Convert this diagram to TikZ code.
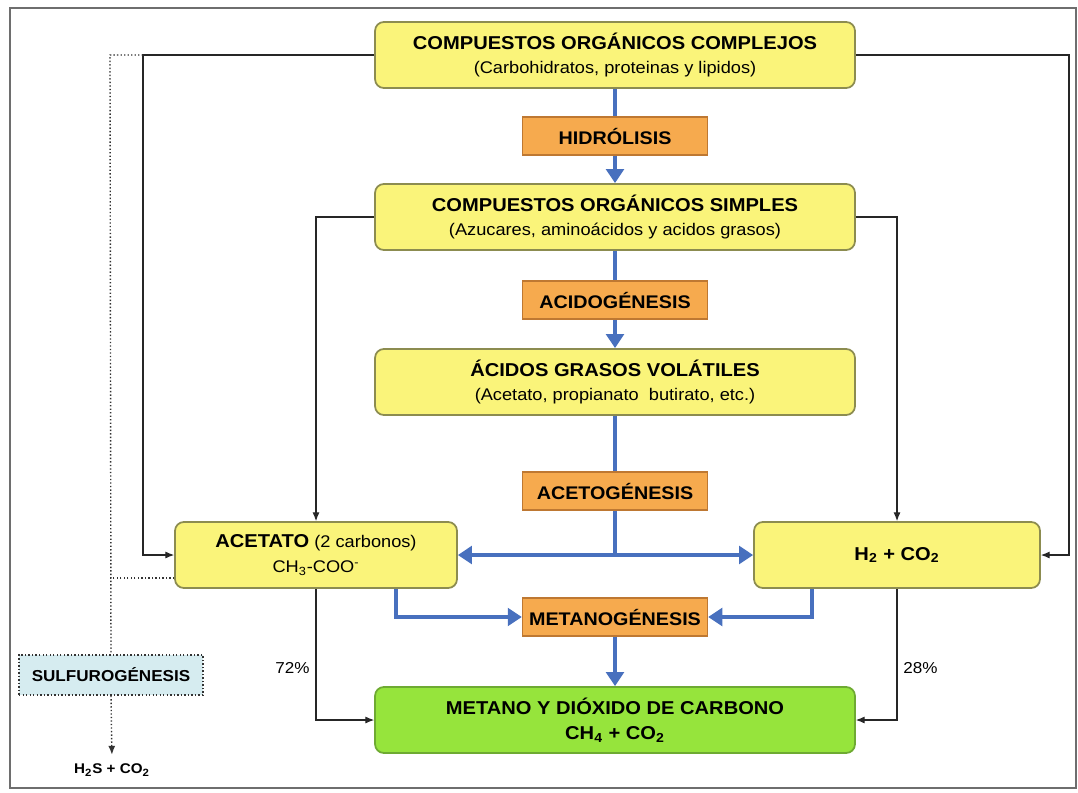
\documentclass[tikz,border=0pt]{standalone}
\usepackage{fontspec}
\setmainfont[FakeStretch=1.08]{Liberation Sans}
\usetikzlibrary{arrows.meta}

\definecolor{amarillo}{RGB}{250,244,122}
\definecolor{bordeamarillo}{RGB}{140,140,80}
\definecolor{naranja}{RGB}{246,170,78}
\definecolor{bordenaranja}{RGB}{190,120,50}
\definecolor{verde}{RGB}{150,228,60}
\definecolor{bordeverde}{RGB}{110,170,50}
\definecolor{celeste}{RGB}{214,236,240}
\definecolor{azul}{RGB}{72,112,190}
\definecolor{marco}{RGB}{110,110,110}

\newcommand{\titulo}[1]{{\fontsize{10.6}{14}\selectfont\bfseries #1}}

\tikzset{
  caja/.style={draw=bordeamarillo, fill=amarillo, line width=1pt, rounded corners=5pt,
    minimum width=9.6cm, minimum height=1.32cm, align=center, inner sep=0pt,
    font=\fontsize{9.6}{14}\selectfont},
  etapa/.style={draw=bordenaranja, fill=naranja, line width=0.8pt, minimum width=3.7cm,
    minimum height=0.76cm, inner sep=0pt, font=\fontsize{10.4}{12}\selectfont\bfseries},
  flujo/.style={draw=azul, line width=2.6pt},
  flecha/.style={flujo, -{Triangle[length=8pt,width=10pt]}},
  retorno/.style={draw=black!85, line width=0.6pt, -{Latex[length=5pt,width=4pt]}},
  punteado/.style={draw=black!80, line width=0.8pt, dash pattern=on 0.8pt off 1.2pt},
}

\begin{document}
\begin{tikzpicture}[x=0.02cm, y=-0.02cm]
\useasboundingbox (0,0) rectangle (1078,792);
\draw[marco, line width=1.4pt] (10,8) rectangle (1076,788);

% etapas centrales
\node[caja] (complejos) at (615,55) {\titulo{COMPUESTOS ORGÁNICOS COMPLEJOS}\\(Carbohidratos, proteinas y lipidos)};
\node[etapa] (hidrolisis) at (615,136) {HIDRÓLISIS};
\node[caja] (simples) at (615,217) {\titulo{COMPUESTOS ORGÁNICOS SIMPLES}\\(Azucares, aminoácidos y acidos grasos)};
\node[etapa] (acidogenesis) at (615,300) {ACIDOGÉNESIS};
\node[caja] (volatiles) at (615,382) {\titulo{ÁCIDOS GRASOS VOLÁTILES}\\(Acetato, propianato\ \ butirato, etc.)};
\node[etapa] (acetogenesis) at (615,491) {ACETOGÉNESIS};
\node[caja, minimum width=5.64cm] (acetato) at (316,555) {\titulo{ACETATO} (2 carbonos)\\CH\textsubscript{3}-COO\textsuperscript{-}};
\node[caja, minimum width=5.72cm] (hidrogeno) at (897,555) {\titulo{H\textsubscript{2} + CO\textsubscript{2}}};
\node[etapa] (metanogenesis) at (615,617) {METANOGÉNESIS};
\node[caja, draw=bordeverde, fill=verde] (metano) at (615,720) {\titulo{METANO Y DIÓXIDO DE CARBONO}\\\titulo{CH\textsubscript{4} + CO\textsubscript{2}}};

% via lateral
\node[draw=black!70, punteado, fill=celeste, minimum width=3.68cm, minimum height=0.8cm,
  inner sep=0pt, font=\fontsize{9}{11}\selectfont\bfseries] (sulfurogenesis) at (111,675) {SULFUROGÉNESIS};
\node[font=\fontsize{8}{10}\selectfont\bfseries, inner sep=1pt] (h2s) at (112,770) {H\textsubscript{2}S + CO\textsubscript{2}};

% flujo principal
\path[flujo] (complejos) -- (hidrolisis);
\path[flecha] (hidrolisis) -- (simples);
\path[flujo] (simples) -- (acidogenesis);
\path[flecha] (acidogenesis) -- (volatiles);
\path[flujo] (volatiles) -- (acetogenesis);
\coordinate (cruce) at (615,555);
\path[flujo] (acetogenesis) -- (cruce);
\path[flecha] (cruce) -- (acetato.east);
\path[flecha] (cruce) -- (hidrogeno.west);
\path[flecha] ([xshift=1.6cm]acetato.south) |- (metanogenesis.west);
\path[flecha] ([xshift=-1.7cm]hidrogeno.south) |- (metanogenesis.east);
\path[flecha] (metanogenesis) -- (metano);

% conexiones directas
\coordinate (vueltaizq) at (143,55);
\coordinate (vueltader) at (1069,55);
\path[retorno] (complejos.west) -- (vueltaizq) |- (acetato.west);
\path[retorno] (complejos.east) -- (vueltader) |- (hidrogeno.east);
\path[retorno] (simples.west) -| (acetato.north);
\path[retorno] (simples.east) -| (hidrogeno.north);
\path[retorno] (acetato.south) |- node[pos=0.3, anchor=east, font=\fontsize{9}{11}\selectfont] {72\%} (metano.west);
\path[retorno] (hidrogeno.south) |- node[pos=0.3, anchor=west, font=\fontsize{9}{11}\selectfont] {28\%} (metano.east);

% sulfurogenesis
\coordinate (desvio) at (110,55);
\coordinate (salida) at ([yshift=-0.46cm]acetato.west);
\path[punteado] (vueltaizq) -- (desvio) -- (sulfurogenesis.north);
\path[punteado] (salida) -- (salida -| desvio);
\path[punteado, -{Latex[length=5pt,width=4pt]}, shorten >=4pt] (sulfurogenesis.south) -- (h2s.north);
\end{tikzpicture}
\end{document}
